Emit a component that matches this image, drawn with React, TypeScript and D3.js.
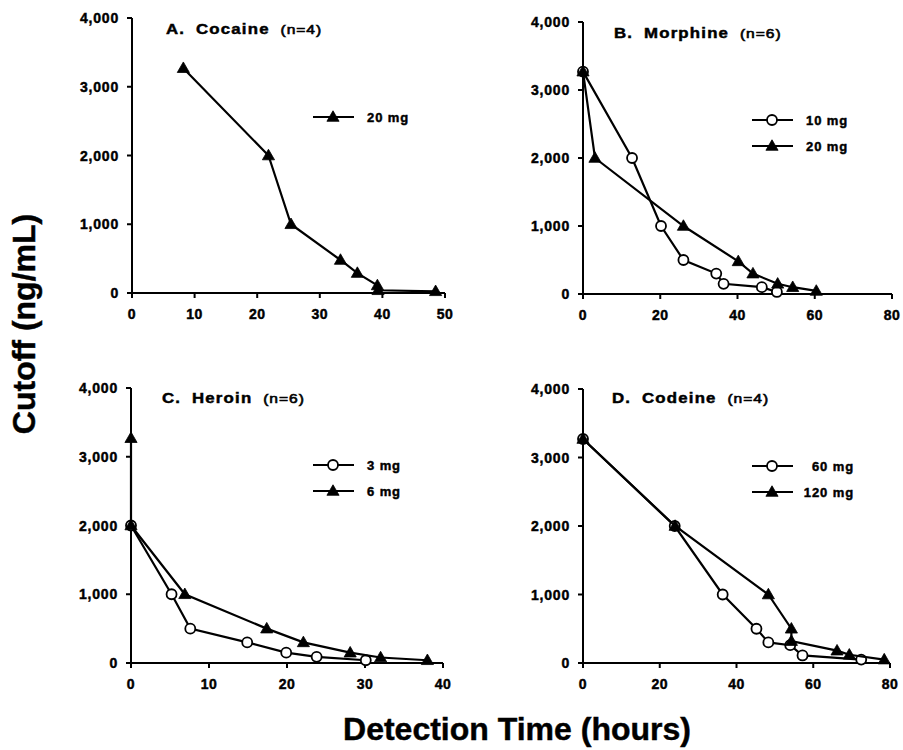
import React from "react";
import * as d3 from "d3";

// Cutoff concentration (ng/mL) vs. detection time (hours), pairs of [hours, ng/mL]
const cocaine20mg: [number, number][] = [
  [8.2, 3270], [21.8, 2000], [25.4, 1000], [33.3, 480], [36, 290], [39.2, 110], [39.3, 40], [48.5, 25],
];
const morphine10mg: [number, number][] = [
  [0, 3270], [12.7, 2000], [20.2, 1000], [26, 500], [34.5, 300], [36.4, 150], [46.3, 100], [50.2, 30],
];
const morphine20mg: [number, number][] = [
  [0, 3270], [3.1, 2000], [26, 1000], [40.2, 480], [44, 300], [50.4, 150], [54.3, 100], [60.4, 45],
];
const heroin3mg: [number, number][] = [
  [0, 2000], [5.2, 1000], [7.6, 500], [14.9, 300], [19.9, 150], [23.8, 90], [30.1, 40],
];
const heroin6mg: [number, number][] = [
  [0, 3270], [0, 2000], [6.9, 1000], [17.4, 500], [22.1, 300], [28.1, 150], [32, 80], [38, 40],
];
const codeine60mg: [number, number][] = [
  [0, 3270], [23.9, 2000], [36.4, 1000], [45.2, 500], [48.3, 300], [54, 260], [57.2, 110], [72.5, 50],
];
const codeine120mg: [number, number][] = [
  [0, 3270], [24, 2000], [48.3, 1000], [54.3, 500], [54.3, 320], [66.2, 180], [69.4, 120], [78.5, 50],
];

const yTicks = [0, 1000, 2000, 3000, 4000];
const xTicksA = [0, 10, 20, 30, 40, 50];
const xTicksB = [0, 20, 40, 60, 80];
const xTicksC = [0, 10, 20, 30, 40];
const xTicksD = [0, 20, 40, 60, 80];

const panelLetters = ["A.", "B.", "C.", "D."];
const drugNames = ["Cocaine", "Morphine", "Heroin", "Codeine"];
const subjectCounts = ["(n=4)", "(n=6)", "(n=6)", "(n=4)"];

type Series = { label: string; marker: "circle" | "triangle"; data: [number, number][] };

type Panel = {
  x0: number; x1: number; yTop: number; yBottom: number;
  xMax: number; xTicks: number[];
  series: Series[];
  titleX: number; titleY: number;
  legendX: number; legendY: number; legendTextEnd?: boolean;
};

const panels: Panel[] = [
  {
    x0: 132, x1: 445, yTop: 18, yBottom: 293, xMax: 50, xTicks: xTicksA,
    series: [{ label: "20 mg", marker: "triangle", data: cocaine20mg }],
    titleX: 166, titleY: 34,
    legendX: 313, legendY: 117,
  },
  {
    x0: 583, x1: 892, yTop: 22, yBottom: 294, xMax: 80, xTicks: xTicksB,
    series: [
      { label: "10 mg", marker: "circle", data: morphine10mg },
      { label: "20 mg", marker: "triangle", data: morphine20mg },
    ],
    titleX: 614, titleY: 38,
    legendX: 752, legendY: 120,
  },
  {
    x0: 131, x1: 443, yTop: 388, yBottom: 663, xMax: 40, xTicks: xTicksC,
    series: [
      { label: "3 mg", marker: "circle", data: heroin3mg },
      { label: "6 mg", marker: "triangle", data: heroin6mg },
    ],
    titleX: 162, titleY: 403,
    legendX: 313, legendY: 465,
  },
  {
    x0: 583, x1: 890, yTop: 389, yBottom: 663, xMax: 80, xTicks: xTicksD,
    series: [
      { label: "60 mg", marker: "circle", data: codeine60mg },
      { label: "120 mg", marker: "triangle", data: codeine120mg },
    ],
    titleX: 612, titleY: 403,
    legendX: 752, legendY: 466, legendTextEnd: true,
  },
];

const FONT = "'Liberation Sans', Arial, Helvetica, sans-serif";
const fmt = d3.format(",");
const triangle = d3.symbol().type(d3.symbolTriangle).size(64)() as string;

// heavy print look for all lettering
const ink = { stroke: "#000", strokeWidth: 0.45, paintOrder: "stroke" as const };

function Marker({ kind, x, y }: { kind: "circle" | "triangle"; x: number; y: number }) {
  if (kind === "circle") {
    return <circle cx={x} cy={y} r={5} fill="#fff" stroke="#000" strokeWidth={1.8} />;
  }
  return <path d={triangle} transform={`translate(${x},${y + 0.8})`} fill="#000" stroke="#000" strokeWidth={0.8} />;
}

function PanelView({ p, i }: { p: Panel; i: number }) {
  const x = d3.scaleLinear().domain([0, p.xMax]).range([p.x0, p.x1]);
  const y = d3.scaleLinear().domain([0, 4000]).range([p.yBottom, p.yTop]);
  const line = d3.line<[number, number]>().x((d) => x(d[0])).y((d) => y(d[1]));

  return (
    <g>
      {/* axes */}
      <line x1={p.x0} x2={p.x0} y1={p.yBottom} y2={p.yTop} stroke="#000" strokeWidth={2} />
      <line x1={p.x0} x2={p.x1} y1={p.yBottom} y2={p.yBottom} stroke="#000" strokeWidth={2} />
      {yTicks.map((t) => (
        <g key={"y" + t}>
          <line x1={p.x0 - 5} x2={p.x0} y1={y(t)} y2={y(t)} stroke="#000" strokeWidth={2} />
          <text x={p.x0 - 13} y={y(t)} dy="0.36em" textAnchor="end" fontFamily={FONT}
            fontWeight="bold" fontSize={14} letterSpacing={0.8} {...ink}>{fmt(t)}</text>
        </g>
      ))}
      {p.xTicks.map((t) => (
        <g key={"x" + t}>
          <line x1={x(t)} x2={x(t)} y1={p.yBottom} y2={p.yBottom + 5} stroke="#000" strokeWidth={2} />
          <text x={x(t)} y={p.yBottom + 26} textAnchor="middle" fontFamily={FONT}
            fontWeight="bold" fontSize={14} letterSpacing={0.5} {...ink}>{t}</text>
        </g>
      ))}

      {/* title, set slightly wide */}
      <text transform={`translate(${p.titleX},${p.titleY}) scale(1.2,1)`} fontFamily={FONT} fontSize={14} {...ink}>
        <tspan fontWeight="bold" letterSpacing={1}>{panelLetters[i]}</tspan>
        <tspan dx={9} fontWeight="bold" letterSpacing={1}>{drugNames[i]}</tspan>
        <tspan dx={9} fontSize={13} letterSpacing={0.8} strokeWidth={0.6}>{subjectCounts[i]}</tspan>
      </text>

      {/* series */}
      {p.series.map((s) => (
        <g key={s.label}>
          <path d={line(s.data) as string} fill="none" stroke="#000" strokeWidth={2.2} />
          {s.data.map((d, j) => (
            <Marker key={j} kind={s.marker} x={x(d[0])} y={y(d[1])} />
          ))}
        </g>
      ))}

      {/* legend */}
      {p.series.map((s, j) => {
        const ly = p.legendY + j * 26;
        return (
          <g key={"lg" + s.label}>
            <line x1={p.legendX} x2={p.legendX + 41} y1={ly} y2={ly} stroke="#000" strokeWidth={2} />
            <Marker kind={s.marker} x={p.legendX + 20} y={ly} />
            <text x={p.legendTextEnd ? p.legendX + 102 : p.legendX + 54} y={ly} dy="0.35em"
              textAnchor={p.legendTextEnd ? "end" : "start"} fontFamily={FONT}
              fontWeight="bold" fontSize={13} letterSpacing={0.9} {...ink}>{s.label}</text>
          </g>
        );
      })}
    </g>
  );
}

export default function App() {
  return (
    <svg width={903} height={750} viewBox="0 0 903 750"
      style={{ position: "absolute", left: 0, top: 0, background: "#fff" }}>
      <rect width={903} height={750} fill="#fff" />
      {panels.map((p, i) => (
        <PanelView key={i} p={p} i={i} />
      ))}
      <text transform="translate(35,324) rotate(-90)" textAnchor="middle" fontFamily={FONT}
        fontWeight="bold" fontSize={32} {...ink}>Cutoff (ng/mL)</text>
      <text x={517} y={740} textAnchor="middle" fontFamily={FONT} fontWeight="bold" fontSize={32} {...ink}>
        Detection Time (hours)
      </text>
    </svg>
  );
}
